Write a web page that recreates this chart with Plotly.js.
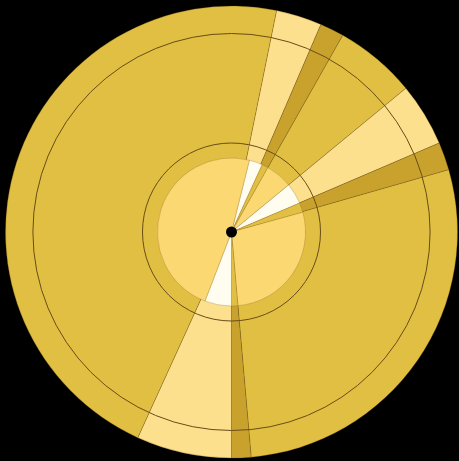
<!DOCTYPE html>
<html>
<head>
<meta charset="utf-8">
<script src="https://cdn.plot.ly/plotly-3.0.1.min.js"></script>
<style>html,body{margin:0;padding:0;background:#000;}#chart{width:459px;height:461px;}</style>
</head>
<body>
<div id="chart"></div>
<script>
// Outer ring slices (degrees of arc, clockwise from the start angle)
const outerStart = 11.5;
const outerLabels = ["A-light","A-dark","B","C-light","C-dark","D","E-dark","E-light","F"];
const outerValues = [11.8, 6.2, 21, 16.3, 7.2, 101, 5, 24.5, 167];
const outerColors = ["#FCE08E","#C9A12D","#E1BF42","#FCE08E","#C9A12D","#E1BF42","#C9A12D","#FCE08E","#E1BF42"];

// Inner disc slices
const innerStart = 14;
const innerLabels = ["a-white","a-gold","b","c-white","c-gold","d","e-gold","e-white","f"];
const innerValues = [10.5, 5, 21, 16.5, 7.5, 100.5, 5, 21, 173];
const innerColors = ["#FFFCF0","#E1BF42","#FBD872","#FFFCF0","#E1BF42","#FBD872","#E1BF42","#FFFCF0","#FBD872"];

// Reference circles
const ringValues = [1];

const W = 459, H = 461;
const CX = 231.5, CY = 232;
function dom(r) {
  return {
    x: [(CX - r) / W, (CX + r) / W],
    y: [(H - CY - r) / H, (H - CY + r) / H]
  };
}

const traces = [
  {
    type: 'pie', labels: outerLabels, values: outerValues, sort: false,
    direction: 'clockwise', rotation: outerStart, domain: dom(226),
    marker: {colors: outerColors, line: {color: 'rgba(110,80,20,0.45)', width: 0.6}},
    textinfo: 'none', hoverinfo: 'skip', showlegend: false
  },
  {
    type: 'pie', labels: ['ring'], values: ringValues, sort: false, hole: 89 / 198.5,
    domain: dom(198.5),
    marker: {colors: ['rgba(0,0,0,0)'], line: {color: '#6A4C16', width: 1}},
    textinfo: 'none', hoverinfo: 'skip', showlegend: false
  },
  {
    type: 'pie', labels: innerLabels, values: innerValues, sort: false,
    direction: 'clockwise', rotation: innerStart, domain: dom(74),
    marker: {colors: innerColors, line: {color: 'rgba(130,95,25,0.45)', width: 0.6}},
    textinfo: 'none', hoverinfo: 'skip', showlegend: false
  },
  {
    type: 'pie', labels: ['dot'], values: [1], domain: dom(5.5),
    marker: {colors: ['#000000'], line: {width: 0}},
    textinfo: 'none', hoverinfo: 'skip', showlegend: false
  }
];

const layout = {
  width: W, height: H,
  margin: {l: 0, r: 0, t: 0, b: 0},
  paper_bgcolor: '#000000', plot_bgcolor: '#000000',
  showlegend: false
};

Plotly.newPlot('chart', traces, layout, {displayModeBar: false, staticPlot: true});
</script>
</body>
</html>
